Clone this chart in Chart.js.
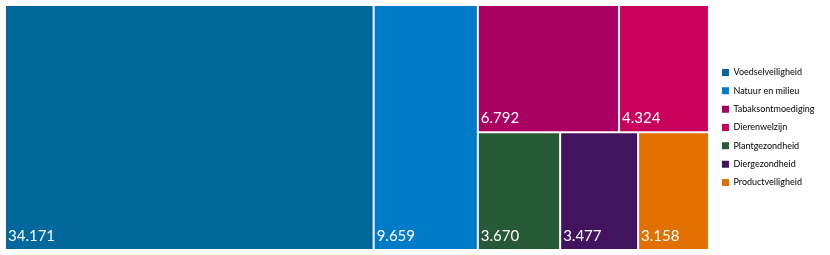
<!DOCTYPE html>
<html>
<head>
<meta charset="utf-8">
<title>Treemap</title>
<script src="https://cdn.jsdelivr.net/npm/chart.js@4.4.1/dist/chart.umd.min.js"></script>
<style>
  html, body { margin: 0; padding: 0; background: #fff; }
  #wrap { width: 830px; height: 255px; }
</style>
</head>
<body>
<div id="wrap"><canvas id="treemap"></canvas></div>
<script>
// Data
const categories = ['Voedselveiligheid', 'Natuur en milieu', 'Tabaksontmoediging', 'Dierenwelzijn',
                    'Plantgezondheid', 'Diergezondheid', 'Productveiligheid'];
const values = [34171, 9659, 6792, 4324, 3670, 3477, 3158];
const colors = ['#01689B', '#007BC7', '#A90061', '#CA005D', '#275937', '#42145F', '#E17000'];

const LAYOUT_RATIO = 0.75;

function formatNumber(v) {
    return String(v).replace(/\B(?=(\d{3})+(?!\d))/g, '.');
}

// Squarified layout (d3 style), values sorted descending, returns cells in input order
function squarify(vals, x0, y0, x1, y1, ratio) {
    const cells = [];
    const n = vals.length;
    let value = vals.reduce((a, b) => a + b, 0);
    let i0 = 0, i1 = 0;

    while (i0 < n) {
        const dx = x1 - x0, dy = y1 - y0;
        let sum = vals[i1++];
        let minV = sum, maxV = sum;
        const alpha = Math.max(dy / dx, dx / dy) / (value * ratio);
        let beta = sum * sum * alpha;
        let minRatio = Math.max(maxV / beta, beta / minV);

        for (; i1 < n; i1++) {
            const v = vals[i1];
            sum += v;
            if (v < minV) minV = v;
            if (v > maxV) maxV = v;
            beta = sum * sum * alpha;
            const r = Math.max(maxV / beta, beta / minV);
            if (r > minRatio) { sum -= v; break; }
            minRatio = r;
        }

        const row = vals.slice(i0, i1);
        if (dx < dy) {
            const h = dy * sum / value;
            let x = x0;
            row.forEach(v => {
                const w = dx * v / sum;
                cells.push({ x0: x, y0: y0, x1: x + w, y1: y0 + h });
                x += w;
            });
            y0 += h;
        } else {
            const w = dx * sum / value;
            let y = y0;
            row.forEach(v => {
                const h = dy * v / sum;
                cells.push({ x0: x0, y0: y, x1: x0 + w, y1: y + h });
                y += h;
            });
            x0 += w;
        }
        value -= sum;
        i0 = i1;
    }
    return cells;
}

// Small treemap controller that lays out bar elements on two linear scales
class TreemapController extends Chart.DatasetController {
    update(mode) {
        const meta = this._cachedMeta;
        this.updateElements(meta.data, 0, meta.data.length, mode);
    }

    updateElements(rects, start, count, mode) {
        const meta = this._cachedMeta;
        const xScale = meta.xScale;
        const yScale = meta.yScale;
        const data = this.getDataset().data;

        const pxW = Math.abs(xScale.getPixelForValue(1) - xScale.getPixelForValue(0));
        const pxH = Math.abs(yScale.getPixelForValue(1) - yScale.getPixelForValue(0));
        const aspect = pxW / pxH;
        const cells = squarify(data, 0, 0, aspect, 1, LAYOUT_RATIO);

        for (let i = start; i < start + count; i++) {
            const c = cells[i];
            const left = xScale.getPixelForValue(c.x0 / aspect);
            const right = xScale.getPixelForValue(c.x1 / aspect);
            const top = yScale.getPixelForValue(c.y0);
            const bottom = yScale.getPixelForValue(c.y1);
            const props = {
                x: (left + right) / 2,
                y: top,
                base: bottom,
                width: right - left,
                height: bottom - top,
                horizontal: false,
                borderSkipped: {},
                inflateAmount: 0,
                options: this.resolveDataElementOptions(i, mode)
            };
            this.updateElement(rects[i], i, props, mode);
        }
    }
}
TreemapController.id = 'treemap';
TreemapController.defaults = { datasetElementType: false, dataElementType: 'bar' };
Chart.register(TreemapController);

// Value labels in the bottom-left corner of each cell
const cellLabels = {
    id: 'cellLabels',
    afterDatasetsDraw(chart) {
        const ctx = chart.ctx;
        const meta = chart.getDatasetMeta(0);
        ctx.save();
        ctx.fillStyle = '#ffffff';
        ctx.font = '15px Lato, "Open Sans", sans-serif';
        ctx.textAlign = 'left';
        ctx.textBaseline = 'alphabetic';
        meta.data.forEach((el, i) => {
            ctx.fillText(formatNumber(values[i]), el.x - el.width / 2 + 3, el.base - 9);
        });
        ctx.restore();
    }
};

// Empty layout box that keeps a small gap between the cells and the legend
const legendGap = {
    id: 'legendGap',
    beforeInit(chart) {
        Chart.layouts.addBox(chart, {
            position: 'right',
            weight: 0,
            fullSize: false,
            options: {},
            isHorizontal() { return false; },
            update(maxWidth, maxHeight) {
                this.width = 3.7;
                this.height = maxHeight;
            },
            draw() {}
        });
    }
};

const ctx = document.getElementById('treemap').getContext('2d');
new Chart(ctx, {
    type: 'treemap',
    data: {
        labels: categories,
        datasets: [{
            data: values,
            backgroundColor: colors,
            borderColor: '#ffffff',
            borderWidth: 1
        }]
    },
    options: {
        responsive: true,
        maintainAspectRatio: false,
        animation: false,
        events: [],
        layout: { padding: { left: 5, top: 5, bottom: 5, right: 5.5 } },
        scales: {
            x: { type: 'linear', min: 0, max: 1, display: false },
            y: { type: 'linear', min: 0, max: 1, reverse: true, display: false }
        },
        plugins: {
            tooltip: { enabled: false },
            legend: {
                position: 'right',
                align: 'center',
                labels: {
                    boxWidth: 7,
                    boxHeight: 7,
                    padding: 9.33,
                    color: '#01689B',
                    font: { family: 'Lato, "Noto Sans", sans-serif', size: 9 },
                    generateLabels: () => categories.map((c, i) => ({
                        text: c,
                        fillStyle: colors[i],
                        strokeStyle: colors[i],
                        lineWidth: 0,
                        hidden: false,
                        index: i
                    }))
                }
            }
        }
    },
    plugins: [legendGap, cellLabels]
});
</script>
</body>
</html>
